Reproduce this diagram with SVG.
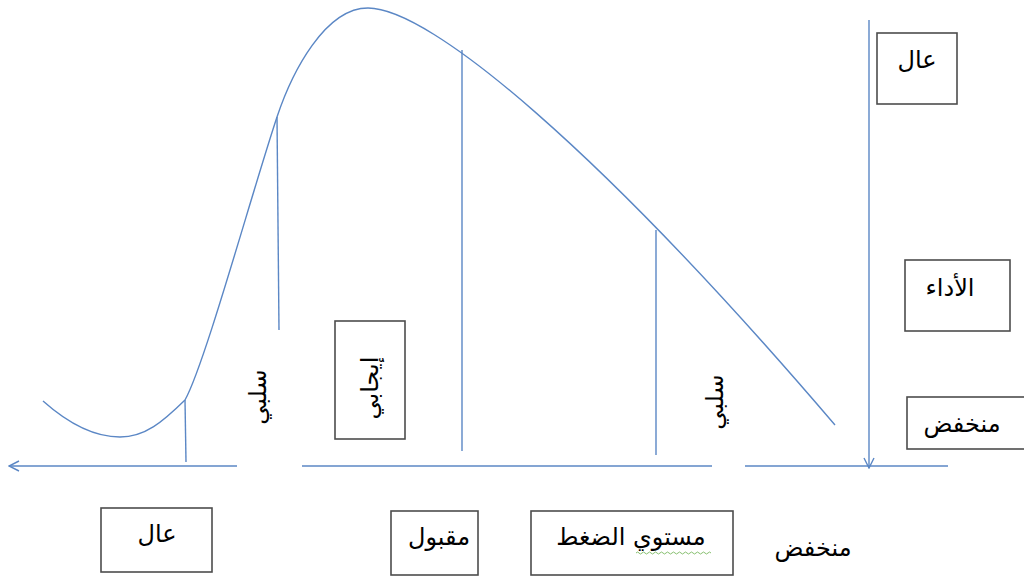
<svg xmlns="http://www.w3.org/2000/svg" width="1024" height="577" viewBox="0 0 1024 577">
<defs>
<style>
.ln{fill:none;stroke:#5b87c5;stroke-width:1.4}
.box{fill:#fff;stroke:#4d4d4d;stroke-width:1.6}
.t{font-family:"DejaVu Sans","Noto Sans",sans-serif;font-size:24px;fill:#000;text-anchor:middle}
</style>
<marker id="arr" viewBox="0 0 12 12" refX="11" refY="6" markerWidth="12" markerHeight="12" markerUnits="userSpaceOnUse" orient="auto">
<path d="M1,1 L11,6 L1,11" fill="none" stroke="#5b87c5" stroke-width="1.4"/>
</marker>
</defs>
<rect width="1024" height="577" fill="#fff"/>
<g id="connectors">
<path class="ln" d="M43,401 C70,425 95,437 120,437 C145,437 163,421.6 185,400 C205,364 252,192 277,117 C292,72 325,8 368,8 C430,8 600,150 835,425"/>
<path class="ln" d="M185,400 L186,462"/>
<path class="ln" d="M277,117 L279,330"/>
<path class="ln" d="M462,50 L462,451"/>
<path class="ln" d="M656,230 L656,455"/>
<path class="ln" d="M237,466 L9,466" marker-end="url(#arr)"/>
<path class="ln" d="M302,466 L712,466"/>
<path class="ln" d="M745,466 L948,466"/>
<path class="ln" d="M869,20 L869,468" marker-end="url(#arr)"/>
</g>
<g id="node-high-top"><rect class="box" x="877" y="33" width="80" height="71"/><text class="t" x="917" y="68">عال</text></g>
<g id="node-performance"><rect class="box" x="905" y="260" width="105" height="71"/><text class="t" x="950" y="296">الأداء</text></g>
<g id="node-low-right"><rect class="box" x="907" y="397" width="125" height="52"/><text class="t" x="962" y="432">منخفض</text></g>
<g id="node-positive"><rect class="box" x="335" y="321" width="70" height="118"/><text class="t" transform="translate(370,388) rotate(-90)" y="8">إيجابي</text></g>
<g id="node-negative-left"><text class="t" transform="translate(258,397) rotate(-90)" y="8">سلبي</text></g>
<g id="node-negative-right"><text class="t" transform="translate(715,402) rotate(-90)" y="8">سلبي</text></g>
<g id="node-high-bottom"><rect class="box" x="101" y="508" width="111" height="64"/><text class="t" x="157" y="542">عال</text></g>
<g id="node-acceptable"><rect class="box" x="391" y="511" width="87" height="64"/><text class="t" x="439" y="545">مقبول</text></g>
<g id="node-stress"><rect class="box" x="531" y="511" width="202" height="64"/><text class="t" x="631" y="545">مستوي الضغط</text>
<path d="M636,553 q1.5,-2 3,0 t3,0 t3,0 t3,0 t3,0 t3,0 t3,0 t3,0 t3,0 t3,0 t3,0 t3,0 t3,0 t3,0 t3,0 t3,0 t3,0 t3,0 t3,0 t3,0 t3,0 t3,0 t3,0 t3,0 t3,0" fill="none" stroke="#6ab04c" stroke-width="0.8"/></g>
<g id="node-low-bottom"><text class="t" x="813" y="556">منخفض</text></g>
</svg>
